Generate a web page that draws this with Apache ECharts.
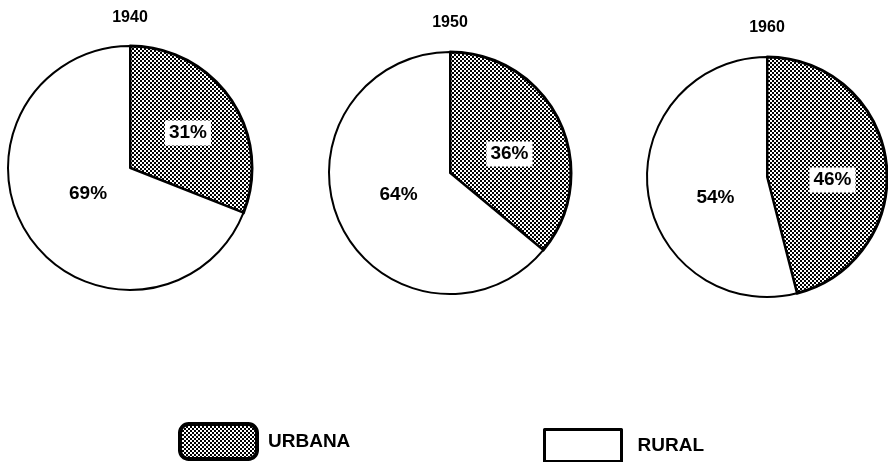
<!DOCTYPE html>
<html lang="es">
<head>
<meta charset="utf-8">
<title>Urbana / Rural</title>
<script src="https://cdn.jsdelivr.net/npm/echarts@6/dist/echarts.min.js"></script>
<style>
  html, body { margin: 0; padding: 0; background: #fff; }
  #chart { width: 888px; height: 462px; }
</style>
</head>
<body>
<div id="chart"></div>
<script>
// datos
var years = ['1940', '1950', '1960'];
var categories = ['URBANA', 'RURAL'];
var urbana = [31, 36, 46];
var rural = [69, 64, 54];

// layout of each pie (center x, center y, radius), title tops, label nudges
var centers = [[130, 168], [450, 173], [767, 177]];
var radii = [122, 121, 120];
var titleTops = [10, 15, 20];
var urbOffsets = [[5, 1], [2, 8], [3, 11]];
var rurOffsets = [[11, -10], [6, -5], [11, 13]];

var FONT = '"Liberation Sans", Arial, sans-serif';

// checkerboard fill for the urban slices
function makePattern() {
  var c = document.createElement('canvas');
  c.width = 4; c.height = 4;
  var ctx = c.getContext('2d');
  ctx.fillStyle = '#fff';
  ctx.fillRect(0, 0, 4, 4);
  ctx.fillStyle = '#000';
  ctx.fillRect(0, 0, 2, 2);
  ctx.fillRect(2, 2, 2, 2);
  return c;
}
var dots = { image: makePattern(), repeat: 'repeat' };

var chart = echarts.init(document.getElementById('chart'));

var titles = [];
var series = [];
for (var i = 0; i < years.length; i++) {
  titles.push({
    text: years[i],
    left: centers[i][0],
    top: titleTops[i],
    textAlign: 'center',
    padding: 0,
    textStyle: { fontFamily: FONT, fontSize: 16, fontWeight: 'bold', color: '#000' }
  });
  series.push({
    type: 'pie',
    name: years[i],
    center: centers[i],
    radius: [0, radii[i]],
    startAngle: 90,
    clockwise: true,
    silent: true,
    emphasis: { disabled: true },
    labelLine: { show: false },
    label: {
      show: true,
      position: 'inside',
      formatter: '{c}%',
      fontFamily: FONT,
      fontSize: 19,
      fontWeight: 'bold',
      color: '#000'
    },
    data: [
      {
        name: categories[0],
        value: urbana[i],
        itemStyle: { color: dots, borderColor: '#000', borderWidth: 3 },
        label: { backgroundColor: '#fff', padding: [4, 4, 2, 4], offset: urbOffsets[i] }
      },
      {
        name: categories[1],
        value: rural[i],
        itemStyle: { color: '#fff', borderColor: '#000', borderWidth: 2 },
        label: { offset: rurOffsets[i] }
      }
    ]
  });
}

function legendText(gap) {
  return { fontFamily: FONT, fontSize: 19, fontWeight: 'bold', color: '#000', padding: [0, 0, 0, gap] };
}

chart.setOption({
  animation: false,
  backgroundColor: '#fff',
  title: titles,
  legend: [
    {
      data: [categories[0]],
      left: 178, top: 422, padding: 0,
      icon: 'roundRect',
      itemWidth: 77, itemHeight: 35,
      selectedMode: false,
      itemStyle: { borderColor: '#000', borderWidth: 4 },
      textStyle: legendText(6)
    },
    {
      data: [categories[1]],
      left: 543, top: 428, padding: 0,
      icon: 'rect',
      itemWidth: 77, itemHeight: 32,
      selectedMode: false,
      itemStyle: { borderColor: '#000', borderWidth: 3 },
      textStyle: legendText(11)
    }
  ],
  series: series
});
</script>
</body>
</html>
